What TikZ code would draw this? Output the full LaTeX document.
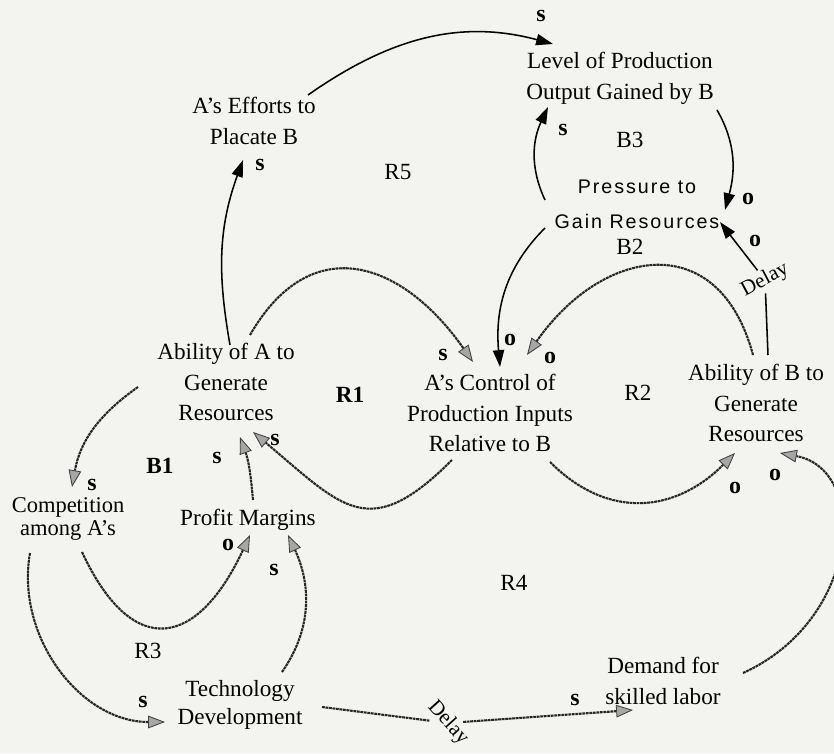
\documentclass[tikz,border=0pt]{standalone}
\usepackage{fontspec}
\setmainfont{Liberation Serif}
\newfontfamily\presfont[LetterSpace=10]{Liberation Sans}
\usetikzlibrary{positioning,calc,arrows.meta}

\definecolor{paper}{RGB}{243,243,239}

\tikzset{
  var/.style={align=center, inner sep=1pt, font=\fontsize{16.5}{22}\selectfont},
  loopname/.style={inner sep=1pt, font=\fontsize{16.5}{20}\selectfont},
  pol/.style={inner sep=0pt, font=\fontsize{17}{20}\selectfont\bfseries},
  delay/.style={inner sep=1.5pt, font=\fontsize{15}{18}\selectfont},
  solidlink/.style={line width=1.1pt, -{Triangle[length=12pt,width=8pt]}},
  hatchlink/.style={line width=1.5pt, draw=black!85, dash pattern=on 2pt off 0.5pt,
    -{Triangle[length=12pt,width=9pt,fill=gray!70,color=black!75,line width=0.6pt]}},
}

\begin{document}
\begin{tikzpicture}
        \useasboundingbox (-12.25,-8.5) rectangle (8.6,10.325);
        \fill[paper] (-12.25,-8.5) rectangle (8.6,10.325);

        % variables
        \node[var] (ctl) at (0,0) {A's Control of\\Production Inputs\\Relative to B};
        \node[var] (abA) at ($(ctl)+(-6.6,0.775)$) {Ability of A to\\Generate\\Resources};
        \node[var] (abB) at ($(ctl)+(6.65,0.25)$) {Ability of B to\\Generate\\Resources};
        \node[var] (lvl) at ($(ctl)+(3.25,8.375)$) {Level of Production\\Output Gained by B};
        \node[var] (eff) at ($(ctl)+(-5.9,7.3)$) {A's Efforts to\\Placate B};
        \node[var, font=\presfont\fontsize{14}{24.8}\selectfont] (prs) at ($(ctl)+(3.675,5.225)$) {Pressure to\\Gain Resources};
        \node[var, font=\fontsize{16}{17}\selectfont] (cmp) at ($(ctl)+(-10.55,-2.65)$) {Competition\\among A's};
        \node[var] (prf) at ($(ctl)+(-6.05,-2.675)$) {Profit Margins};
        \node[var, font=\fontsize{16.5}{20}\selectfont] (tec) at ($(ctl)+(-6.25,-7.3)$) {Technology\\Development};
        \node[var] (dem) at ($(ctl)+(4.325,-6.7)$) {Demand for\\skilled labor};

        % delays
        \node[delay, rotate=28] (dly1) at ($(abB)+(0.225,3.075)$) {Delay};
        \node[delay, rotate=-48] (dly2) at ($(tec)+(5.2,-0.45)$) {Delay};

        % loops
        \node[loopname] (r5) at ($(ctl)+(-2.3,6.025)$) {R5};
        \node[loopname] (b3) at ($(ctl)+(3.5,6.825)$) {B3};
        \node[loopname] (b2) at ($(ctl)+(3.5,4.15)$) {B2};
        \node[loopname, font=\fontsize{16.5}{20}\selectfont\bfseries] (r1) at ($(ctl)+(-3.5,0.45)$) {R1};
        \node[loopname] (r2) at ($(ctl)+(3.7,0.5)$) {R2};
        \node[loopname, font=\fontsize{16.5}{20}\selectfont\bfseries] (b1) at ($(ctl)+(-8.25,-1.325)$) {B1};
        \node[loopname] (r4) at ($(ctl)+(0.6,-4.25)$) {R4};
        \node[loopname] (r3) at ($(ctl)+(-8.55,-5.95)$) {R3};

        % solid links
        \draw[solidlink] ($(eff)+(1.35,0.65)$) to[out=35,in=165] ($(lvl)+(-1.675,0.85)$);
        \draw[solidlink] ($(abA)+(0.1,0.925)$) to[out=100,in=250] ($(eff)+(-0.275,-0.975)$);
        \draw[solidlink] ($(prs)+(-2.3,0.1)$) to[out=115,in=245] ($(lvl)+(-1.8,-0.725)$);
        \draw[solidlink] ($(lvl)+(2.425,-0.8)$) to[out=-60,in=75] ($(prs)+(2.2,-0.15)$);
        \draw[solidlink] ($(abB)+(0.3,1.2)$) -- (dly1) -- ($(prs)+(2.075,-0.45)$);
        \draw[solidlink] ($(prs)+(-2.3,-0.6)$) to[out=225,in=95] ($(ctl)+(0.25,1.15)$);

        % hatched links
        \draw[hatchlink] ($(abA)+(0.6,1.175)$) to[out=60,in=125,looseness=1.4] ($(ctl)+(-0.425,1.275)$);
        \draw[hatchlink] ($(ctl)+(-0.95,-1.175)$) to[out=-135,in=-40,looseness=1.5] ($(abA)+(0.675,-1.25)$);
        \draw[hatchlink] ($(abB)+(-0.075,1.2)$) to[out=105,in=55,looseness=1.5] ($(ctl)+(0.925,1.45)$);
        \draw[hatchlink] ($(ctl)+(1.5,-1.225)$) to[out=-45,in=-135,looseness=1.15] ($(abB)+(-0.525,-1.25)$);
        \draw[hatchlink] ($(dem)+(2.0,0.2)$) .. controls ($(dem)+(4.925,1.525)$) and ($(abB)+(2.85,-1.675)$) .. ($(abB)+(0.6,-1.25)$);
        \draw[hatchlink] ($(tec)+(2.05,-0.05)$) -- (dly2) -- ($(dem)+(-0.75,-0.725)$);
        \draw[hatchlink] ($(abA)+(-2.2,-0.125)$) to[out=215,in=80] ($(cmp)+(0.1,0.8)$);
        \draw[hatchlink] ($(cmp)+(0.35,-0.825)$) to[out=-65,in=-115,looseness=1.85] ($(prf)+(0.05,-0.375)$);
        \draw[hatchlink] ($(prf)+(0.125,0.5)$) to[out=95,in=-70] ($(abA)+(0.35,-1.375)$);
        \draw[hatchlink] ($(cmp)+(-0.95,-0.85)$) to[out=-100,in=180] ($(tec)+(-1.875,-0.425)$);
        \draw[hatchlink] ($(tec)+(1.05,0.825)$) to[out=55,in=-65] ($(prf)+(1.0,-0.375)$);

        % polarities
        \node[pol] (p1) at ($(lvl)+(-1.975,1.55)$) {s};
        \node[pol] (p2) at ($(eff)+(0.15,-1.1)$) {s};
        \node[pol] (p3) at ($(lvl)+(-1.425,-1.3)$) {s};
        \node[pol] (p4) at ($(prs)+(2.775,0.125)$) {o};
        \node[pol] (p5) at ($(prs)+(2.95,-0.925)$) {o};
        \node[pol] (p6) at ($(ctl)+(0.5,1.825)$) {o};
        \node[pol] (p7) at ($(ctl)+(-1.175,1.45)$) {s};
        \node[pol] (p8) at ($(abA)+(1.225,-1.45)$) {s};
        \node[pol] (p9) at ($(ctl)+(1.5,1.375)$) {o};
        \node[pol] (p10) at ($(abB)+(-0.525,-2.125)$) {o};
        \node[pol] (p11) at ($(abB)+(0.475,-1.8)$) {o};
        \node[pol] (p12) at ($(dem)+(-2.2,-0.475)$) {s};
        \node[pol] (p13) at ($(cmp)+(0.6,0.85)$) {s};
        \node[pol] (p14) at ($(prf)+(-0.5,-0.625)$) {o};
        \node[pol] (p15) at ($(abA)+(-0.225,-1.9)$) {s};
        \node[pol] (p16) at ($(tec)+(-2.425,0.075)$) {s};
        \node[pol] (p17) at ($(prf)+(0.65,-1.25)$) {s};
\end{tikzpicture}
\end{document}
